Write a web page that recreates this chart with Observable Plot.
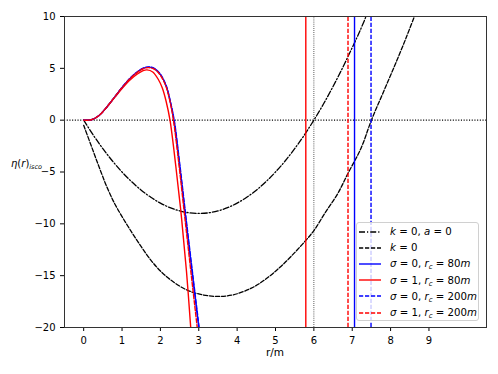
<!DOCTYPE html>
<html><head><meta charset="utf-8">
<script src="https://cdn.jsdelivr.net/npm/d3@7"></script>
<script src="https://cdn.jsdelivr.net/npm/@observablehq/plot@0.6"></script>
<style>
body{margin:0;background:#fff;}
#wrap{position:relative;width:498px;height:374px;font-family:"DejaVu Sans",sans-serif;color:#000;}
#ylab{position:absolute;left:11px;top:158px;font-size:10px;white-space:nowrap;}
#ylab sub{font-size:6.5px;}
#xlab{position:absolute;left:0;width:550px;top:346px;text-align:center;font-size:10.5px;}
#legend{position:absolute;left:356px;top:222px;width:123px;height:99px;border:1px solid #d0d0d0;border-radius:3px;background:rgba(255,255,255,0.8);box-sizing:border-box;padding-top:0.5px;}
.row{height:16.2px;display:flex;align-items:center;font-size:10.2px;white-space:nowrap;}
.row svg{margin-left:1.5px;margin-right:9px;flex:none;}
sub{font-size:7px;vertical-align:-2px;line-height:0;}
</style></head><body><div id="wrap"></div><script>
// ---- data ----
const xTicks = [0,1,2,3,4,5,6,7,8,9];
const yTicks = [-20,-15,-10,-5,0,5,10];

// k=0, a=0 (dash-dot, black)
const curveK0A0 = [[0,0],[0.25,-1.44],[0.5,-2.75],[0.75,-3.94],[1,-5],[1.25,-5.94],[1.5,-6.75],[1.75,-7.44],[2,-8],[2.25,-8.44],[2.5,-8.75],[2.75,-8.94],[3,-9],[3.25,-8.94],[3.5,-8.75],[3.75,-8.44],[4,-8],[4.25,-7.44],[4.5,-6.75],[4.75,-5.94],[5,-5],[5.25,-3.94],[5.5,-2.75],[5.75,-1.44],[6,0],[6.25,1.56],[6.5,3.25],[6.75,5.06],[7,7],[7.2,8.6],[7.36,10]];
// k=0 (dashed, black)
const curveK0 = [[0,-0.5],[0.2,-2.5],[0.4,-4.5],[0.6,-6.4],[0.8,-8.0],[1.0,-9.3],[1.25,-10.8],[1.5,-12.2],[1.75,-13.5],[2.0,-14.55],[2.3,-15.5],[2.7,-16.4],[3.1,-16.85],[3.5,-17.0],[3.9,-16.85],[4.37,-16.2],[4.72,-15.4],[5.2,-13.9],[5.79,-11.6],[6.01,-10.6],[6.3,-8.9],[6.62,-7.1],[6.88,-5.2],[7.23,-2.7],[7.5,0],[7.8,2.6],[8.1,5.2],[8.4,7.9],[8.62,10]];
// sigma=0, rc=80m (blue solid)
const curveS0R80 = [[0,0],[0.2,0.04],[0.4,0.45],[0.6,1.25],[0.8,2.2],[1.0,3.15],[1.2,4.0],[1.4,4.65],[1.55,5.0],[1.7,5.12],[1.85,4.95],[2.0,4.4],[2.15,3.3],[2.25,1.9],[2.35,0],[2.5,-4.4],[2.66,-9.5],[2.83,-14.8],[3.0,-20]];
// sigma=1, rc=80m (red solid)
const curveS1R80 = [[0,0],[0.2,0.04],[0.4,0.45],[0.6,1.25],[0.8,2.15],[1.0,3.05],[1.2,3.85],[1.4,4.45],[1.55,4.78],[1.65,4.85],[1.8,4.65],[1.95,3.9],[2.05,3.1],[2.15,1.8],[2.25,0],[2.4,-4.4],[2.55,-9.4],[2.68,-14.6],[2.79,-20]];
// sigma=0, rc=200m (blue dashed)
const curveS0R200 = [[0,0],[0.2,0.04],[0.4,0.45],[0.6,1.25],[0.8,2.2],[1.0,3.16],[1.2,4.02],[1.4,4.67],[1.55,5.02],[1.7,5.14],[1.85,4.97],[2.0,4.43],[2.15,3.34],[2.25,1.95],[2.36,0],[2.51,-4.4],[2.67,-9.5],[2.84,-14.8],[3.01,-20]];
// sigma=1, rc=200m (red dashed)
const curveS1R200 = [[0,0],[0.2,0.04],[0.4,0.45],[0.6,1.25],[0.8,2.2],[1.0,3.14],[1.2,3.98],[1.4,4.62],[1.55,4.96],[1.7,5.07],[1.85,4.9],[2.0,4.33],[2.15,3.2],[2.25,1.8],[2.34,0],[2.49,-4.5],[2.64,-9.5],[2.8,-14.8],[2.96,-20]];
// divergences (vertical jumps) of each model
const poleR = {s0r80: 7.06, s1r80: 5.79, s0r200: 7.49, s1r200: 6.89};
const refLineY = [0];
const refLineX = [6];

const labels = ["<i>k</i> = 0, <i>a</i> = 0","<i>k</i> = 0",
 "<i>σ</i> = 0, <i>r</i><sub><i>c</i></sub> = 80<i>m</i>",
 "<i>σ</i> = 1, <i>r</i><sub><i>c</i></sub> = 80<i>m</i>",
 "<i>σ</i> = 0, <i>r</i><sub><i>c</i></sub> = 200<i>m</i>",
 "<i>σ</i> = 1, <i>r</i><sub><i>c</i></sub> = 200<i>m</i>"];

const BLUE = "#0000ff", RED = "#ff0000";
const DASH = "4.2,1.8", DASHDOT = "6,2,1.2,2";
const series = [
 {pts: curveK0A0, pole: null, color: "#000", dash: DASHDOT, w: 1.3},
 {pts: curveK0, pole: null, color: "#000", dash: DASH, w: 1.3},
 {pts: curveS0R80, pole: poleR.s0r80, color: BLUE, dash: null, w: 1.4},
 {pts: curveS1R80, pole: poleR.s1r80, color: RED, dash: null, w: 1.4},
 {pts: curveS0R200, pole: poleR.s0r200, color: BLUE, dash: DASH, w: 1.4},
 {pts: curveS1R200, pole: poleR.s1r200, color: RED, dash: DASH, w: 1.4}
];

const fmt = d => d < 0 ? "\u2212" + (-d) : String(d);

const marks = [
  Plot.ruleY(refLineY, {stroke: "#000", strokeWidth: 1.1, strokeDasharray: "1.1,1.6"}),
  Plot.ruleX(refLineX, {y1: -20, y2: 10, stroke: "#000", strokeWidth: 0.8, strokeDasharray: "0.8,1.3"})
];
for (const s of series) {
  marks.push(Plot.line(s.pts, {x: d => d[0], y: d => d[1], stroke: s.color, strokeWidth: s.w,
    strokeDasharray: s.dash || undefined, curve: "catmull-rom", clip: true}));
  if (s.pole != null) {
    marks.push(Plot.ruleX([s.pole], {y1: -20, y2: 10, stroke: s.color, strokeWidth: s.w,
      strokeDasharray: s.dash || undefined}));
  }
}
marks.push(Plot.frame({stroke: "#333", strokeWidth: 1}));

const chart = Plot.plot({
  width: 498, height: 374,
  marginLeft: 64, marginRight: 12, marginTop: 16, marginBottom: 47,
  x: {domain: [-0.5, 10.5], ticks: xTicks, tickFormat: fmt, label: null, tickSize: 4},
  y: {domain: [-20, 10], ticks: yTicks, tickFormat: fmt, label: null, tickSize: 4},
  style: {fontFamily: "DejaVu Sans", fontSize: "10px", background: "white", color: "black"},
  marks
});

const wrap = document.getElementById("wrap");
wrap.appendChild(chart);
const yl = document.createElement("div"); yl.id = "ylab";
yl.innerHTML = "<i>η</i>(<i>r</i>)<sub><i>isco</i></sub>";
wrap.appendChild(yl);
const xl = document.createElement("div"); xl.id = "xlab"; xl.textContent = "r/m";
wrap.appendChild(xl);
const lg = document.createElement("div"); lg.id = "legend";
series.forEach((s, i) => {
  const row = document.createElement("div"); row.className = "row";
  row.innerHTML = `<svg width="22.5" height="6"><line x1="0" y1="3" x2="22.5" y2="3" stroke="${s.color}" stroke-width="${s.w}" ${s.dash ? `stroke-dasharray="${s.dash}"` : ""}/></svg><span>${labels[i]}</span>`;
  lg.appendChild(row);
});
wrap.appendChild(lg);
</script></body></html>
